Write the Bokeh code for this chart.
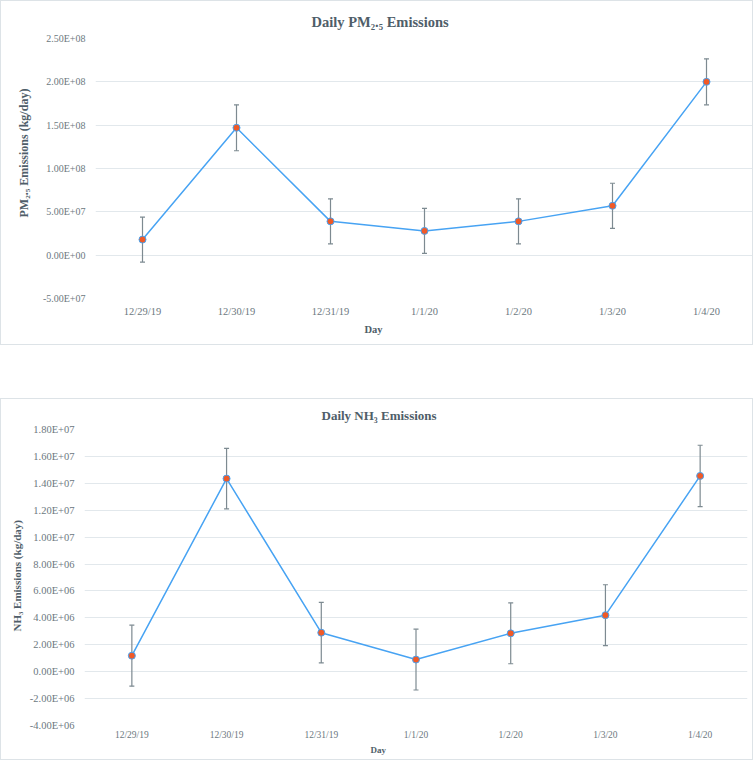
from bokeh.plotting import figure
from bokeh.models import (ColumnDataSource, FactorRange, Range1d, FixedTicker,
                          Whisker, TeeHead, Title)
from bokeh.embed import file_html
from bokeh.resources import INLINE

# ---------------- data ----------------
days = ["12/29/19", "12/30/19", "12/31/19", "1/1/20", "1/2/20", "1/3/20", "1/4/20"]

pm25 = [1.8e7, 1.47e8, 3.9e7, 2.8e7, 3.9e7, 5.7e7, 2.0e8]
pm25_err = [2.6e7, 2.65e7, 2.6e7, 2.6e7, 2.6e7, 2.6e7, 2.65e7]
pm_ticks = [-5e7, 0.0, 5e7, 1e8, 1.5e8, 2e8, 2.5e8]
pm_tick_labels = ["-5.00E+07", "0.00E+00", "5.00E+07", "1.00E+08",
                  "1.50E+08", "2.00E+08", "2.50E+08"]

nh3 = [1.19e6, 1.435e7, 2.9e6, 0.9e6, 2.85e6, 4.2e6, 1.455e7]
nh3_err = [2.27e6, 2.25e6, 2.25e6, 2.26e6, 2.26e6, 2.26e6, 2.28e6]
nh3_ticks = [-4e6, -2e6, 0.0, 2e6, 4e6, 6e6, 8e6, 1e7, 1.2e7, 1.4e7, 1.6e7, 1.8e7]
nh3_tick_labels = ["-4.00E+06", "-2.00E+06", "0.00E+00", "2.00E+06", "4.00E+06",
                   "6.00E+06", "8.00E+06", "1.00E+07", "1.20E+07", "1.40E+07",
                   "1.60E+07", "1.80E+07"]

# ---------------- style ----------------
FONT = "Liberation Serif"
TITLE_C = "#4f5e69"
TICK_C = "#6c7880"
GRID_C = "#e2e8ec"
BORDER_C = "#dde3e7"
LINE_C = "#47a3f3"
MARK_C = "#f05a28"
ERR_C = "#7d8a91"


def text_title(p, text, where, size, offset, standoff, valign="bottom"):
    p.add_layout(Title(text=text, align="left", offset=offset,
                       standoff=standoff, vertical_align=valign,
                       text_font=FONT, text_font_size=size,
                       text_font_style="bold", text_color=TITLE_C), where)


def make_chart(vals, errs, ticks, tick_labels, width, height, mb, ytick_size,
               xtick_size, xtick_standoff, extra_styles):
    src = ColumnDataSource(dict(
        day=days, val=vals,
        upper=[v + e for v, e in zip(vals, errs)],
        lower=[v - e for v, e in zip(vals, errs)],
    ))
    p = figure(x_range=FactorRange(factors=days, range_padding=0),
               y_range=Range1d(ticks[0], ticks[-1]),
               width=width, height=height, output_backend="svg",
               toolbar_location=None,
               min_border_left=mb[0], min_border_right=mb[1],
               min_border_top=mb[2], min_border_bottom=mb[3])
    st = {"border": "1px solid " + BORDER_C}
    st.update(extra_styles)
    p.styles = st
    p.background_fill_color = "white"
    p.border_fill_color = "white"
    p.outline_line_color = None

    p.yaxis.ticker = FixedTicker(ticks=ticks)
    p.yaxis.major_label_overrides = {float(t): s for t, s in zip(ticks, tick_labels)}
    for ax in (p.xaxis[0], p.yaxis[0]):
        ax.axis_line_color = None
        ax.major_tick_line_color = None
        ax.minor_tick_line_color = None
        ax.major_tick_in = 0
        ax.major_tick_out = 0
        ax.minor_tick_out = 0
        ax.major_label_text_font = FONT
        ax.major_label_text_color = TICK_C
    p.yaxis.major_label_text_font_size = ytick_size
    p.yaxis.major_label_standoff = 10
    p.xaxis.major_label_text_font_size = xtick_size
    p.xaxis.major_label_standoff = xtick_standoff

    p.xgrid.grid_line_color = None
    p.ygrid.grid_line_color = GRID_C
    p.ygrid.grid_line_width = 1

    p.line("day", "val", source=src, line_color=LINE_C, line_width=1.5)
    w = Whisker(base="day", upper="upper", lower="lower", source=src,
                line_color=ERR_C, line_width=1.2,
                upper_head=TeeHead(size=5, line_color=ERR_C, line_width=1.2),
                lower_head=TeeHead(size=5, line_color=ERR_C, line_width=1.2))
    p.add_layout(w)
    p.scatter("day", "val", source=src, size=7, fill_color=MARK_C,
              line_color=LINE_C, line_width=1)
    return p


# ---------------- top chart ----------------
p1 = make_chart(pm25, pm25_err, pm_ticks, pm_tick_labels, 753, 345,
                (94, 1, 37, 48), "10px", "10.5px", 7, {})
text_title(p1, "Daily PM\u2082.\u2085 Emissions", "above", "14.5px", 216, 18)
text_title(p1, "Day", "below", "10.5px", 269, 5)
text_title(p1, "PM\u2082.\u2085 Emissions (kg/day)", "left", "12px", 81, 18)

# ---------------- bottom chart ----------------
p2 = make_chart(nh3, nh3_err, nh3_ticks, nh3_tick_labels, 753, 362,
                (83, 7, 30, 36), "10.5px", "9.5px", 4, {"margin-top": "53px"})
text_title(p2, "Daily NH\u2083 Emissions", "above", "13px", 237, 13)
text_title(p2, "Day", "below", "9px", 286, 0)
text_title(p2, "NH\u2083 Emissions (kg/day)", "left", "11px", 94, 8)

open("out.html", "w").write(file_html([p1, p2], INLINE))
